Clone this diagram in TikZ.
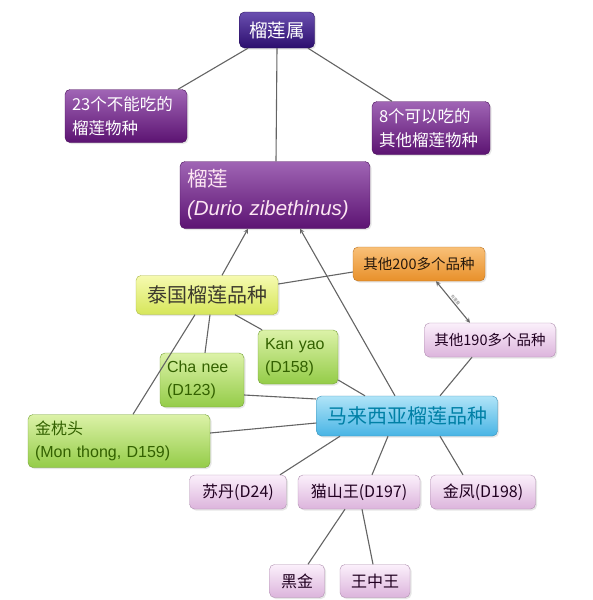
\documentclass[tikz,border=0pt]{standalone}
\usepackage{fontspec}
\setmainfont{Noto Sans CJK SC}
\newfontfamily\latinfont{Liberation Sans}
\usetikzlibrary{arrows, shadows}

\definecolor{genustop}{HTML}{6A4FB0}
\definecolor{genusbot}{HTML}{2C0E6E}
\definecolor{speciestop}{HTML}{A065B5}
\definecolor{speciesbot}{HTML}{5C1372}
\definecolor{othertop}{HTML}{F9C078}
\definecolor{otherbot}{HTML}{E8902A}
\definecolor{thaitop}{HTML}{F6FAB0}
\definecolor{thaibot}{HTML}{D6E65A}
\definecolor{varietytop}{HTML}{DCF2A8}
\definecolor{varietybot}{HTML}{94CC48}
\definecolor{malaytop}{HTML}{B0E4F8}
\definecolor{malaybot}{HTML}{48B4E4}
\definecolor{cultivartop}{HTML}{FBF0FB}
\definecolor{cultivarbot}{HTML}{DCB4DC}
\definecolor{linegray}{HTML}{646464}

\tikzstyle{box} = [
    rectangle,
    rounded corners=5pt,
    inner xsep=7pt,
    inner ysep=4pt,
    drop shadow={opacity=0.2, shadow xshift=1.5pt, shadow yshift=-1.5pt}
]
\tikzstyle{genus} = [
    box,
    draw=genusbot!80!black,
    top color=genustop,
    bottom color=genusbot,
    text=white,
    minimum width=75pt,
    minimum height=36pt,
    font=\fontsize{18.5}{22}\selectfont
]
\tikzstyle{species} = [
    box,
    draw=speciesbot!80!black,
    top color=speciestop,
    bottom color=speciesbot,
    text=white,
    text width=108pt,
    align=left,
    minimum height=53pt,
    font=\fontsize{16.5}{24}\selectfont
]
\tikzstyle{durianbox} = [
    species,
    text=white!90!magenta,
    text width=176pt,
    minimum height=67pt,
    font=\fontsize{20.5}{29}\selectfont
]
\tikzstyle{otherbox} = [
    box,
    draw=otherbot!80!black,
    top color=othertop,
    bottom color=otherbot,
    text=black!80!brown,
    minimum width=132pt,
    minimum height=34pt,
    font=\fontsize{14.5}{18}\selectfont
]
\tikzstyle{thaibox} = [
    box,
    draw=thaibot!80!black,
    top color=thaitop,
    bottom color=thaibot,
    text=black!75!olive,
    minimum width=142pt,
    minimum height=39pt,
    font=\fontsize{20}{24}\selectfont
]
\tikzstyle{variety} = [
    box,
    draw=varietybot!80!black,
    top color=varietytop,
    bottom color=varietybot,
    text=black!70!green!60!olive,
    text width=70pt,
    align=left,
    minimum height=54pt,
    font=\fontsize{16}{23}\selectfont
]
\tikzstyle{malaybox} = [
    box,
    draw=malaybot!80!black,
    top color=malaytop,
    bottom color=malaybot,
    text=black!70!blue!50!cyan,
    minimum width=181pt,
    minimum height=40pt,
    font=\fontsize{20}{24}\selectfont
]
\tikzstyle{cultivar} = [
    box,
    draw=cultivarbot!80!black,
    top color=cultivartop,
    bottom color=cultivarbot,
    text=black!75!violet,
    minimum height=34pt,
    font=\fontsize{16}{20}\selectfont
]
\tikzstyle{link} = [draw=linegray, line width=1.1pt]
\tikzstyle{arrow} = [link,->,>=stealth]

\begin{document}
\begin{tikzpicture}[x=1pt, y=-1pt]
\useasboundingbox (0,0) rectangle (592,600);

\node (genus) [genus] at (277,30) {榴莲属};

\node (inedible) [species] at (126,116)
{23个不能吃的\\榴莲物种};

\node (edible) [species, text width=104pt] at (431,128)
{8个可以吃的\\其他榴莲物种};

\node (durian) [durianbox] at (275,195)
{榴莲\\{\latinfont\itshape (Durio zibethinus)}};

\node (other200) [otherbox] at (419,264) {其他200多个品种};

\node (thai) [thaibox] at (207,295) {泰国榴莲品种};

\node (other190) [cultivar, minimum width=131pt,
    font=\fontsize{14.5}{18}\selectfont] at (490,340)
{其他190多个品种};

\node (kanyao) [variety, text width=66pt] at (298,357)
{\latinfont Kan yao\\(D158)};

\node (chanee) [variety] at (202,380)
{\latinfont Cha nee\\(D123)};

\node (monthong) [variety, text width=168pt, minimum height=53pt] at (119,441)
{金枕头\\{\latinfont (Mon thong, D159)}};

\node (malay) [malaybox] at (407,416) {马来西亚榴莲品种};

\node (sultan) [cultivar, minimum width=97pt] at (238,492) {苏丹(D24)};

\node (musang) [cultivar, minimum width=122pt] at (359,492) {猫山王(D197)};

\node (golden) [cultivar, minimum width=105pt] at (483,492) {金凤(D198)};

\node (blackgold) [cultivar, minimum width=55pt, minimum height=33pt] at (297,581) {黑金};

\node (king) [cultivar, minimum width=70pt, minimum height=33pt] at (375,581) {王中王};

\draw [link] ([xshift=-29pt]genus.south) -- ([xshift=52pt]inedible.north);
\draw [link] (genus.south) -- ([xshift=1pt]durian.north);
\draw [link] ([xshift=31pt]genus.south) -- ([xshift=-39pt]edible.north);

\draw [arrow] ([xshift=15pt]thai.north) -- ([xshift=-27pt]durian.south);
\draw [arrow] ([xshift=-12pt]malay.north) -- ([xshift=25pt]durian.south);

\draw [link] ([yshift=11pt]thai.east) -- ([yshift=-8pt]other200.west);
\draw [link, <->, >=stealth] ([xshift=17pt]other200.south) -- ([xshift=-20pt]other190.north)
    node (overlap) [midway, sloped, above=1pt, inner sep=0pt,
        font=\fontsize{4}{4}\selectfont, text=gray] {有重叠};

\draw [link] ([xshift=3pt]thai.south) -- ([xshift=3pt]chanee.north);
\draw [link] ([xshift=-12pt]thai.south) -- ([xshift=14pt]monthong.north);
\draw [link] ([xshift=28pt]thai.south) -- ([xshift=-36pt]kanyao.north);

\draw [link] ([yshift=-15pt]chanee.east) -- ([yshift=17pt]malay.west);
\draw [link] ([yshift=-23pt]kanyao.east) -- ([xshift=-42pt]malay.north);
\draw [link] ([yshift=8pt]monthong.east) -- ([yshift=-7pt]malay.west);
\draw [link] ([xshift=-18pt]other190.south) -- ([xshift=33pt]malay.north);

\draw [link] ([xshift=-67pt]malay.south) -- ([xshift=42pt]sultan.north);
\draw [link] ([xshift=-19pt]malay.south) -- ([xshift=13pt]musang.north);
\draw [link] ([xshift=33pt]malay.south) -- ([xshift=-20pt]golden.north);

\draw [link] ([xshift=-14pt]musang.south) -- ([xshift=11pt]blackgold.north);
\draw [link] ([xshift=3pt]musang.south) -- ([xshift=-2pt]king.north);

\end{tikzpicture}
\end{document}
